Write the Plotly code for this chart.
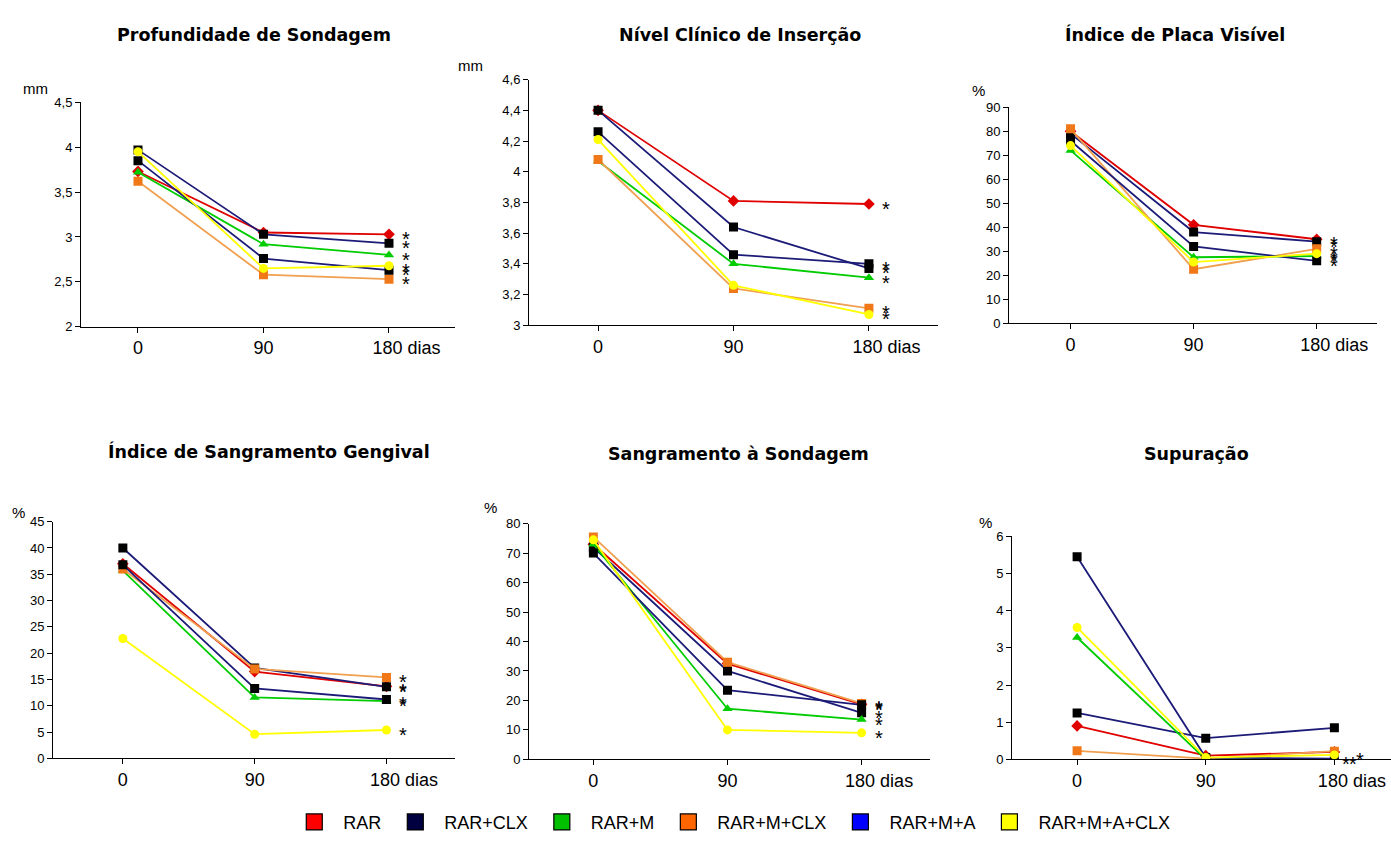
import plotly.graph_objects as go

# ---------------- data ----------------
days = ["0", "90", "180"]
series_names = ["RAR", "RAR+CLX", "RAR+M", "RAR+M+CLX", "RAR+M+A", "RAR+M+A+CLX"]

# Profundidade de Sondagem (mm)
ps_rar = [3.73, 3.05, 3.03]
ps_clx = [3.97, 3.03, 2.93]
ps_m = [3.72, 2.92, 2.80]
ps_mclx = [3.62, 2.58, 2.53]
ps_ma = [3.85, 2.76, 2.63]
ps_maclx = [3.95, 2.65, 2.68]

# Nivel Clinico de Insercao (mm)
nci_rar = [4.40, 3.81, 3.79]
nci_clx = [4.40, 3.64, 3.37]
nci_m = [4.07, 3.40, 3.31]
nci_mclx = [4.08, 3.24, 3.11]
nci_ma = [4.26, 3.46, 3.40]
nci_maclx = [4.21, 3.26, 3.07]

# Indice de Placa Visivel (%)
ipv_rar = [80, 41, 35]
ipv_clx = [79, 38, 34]
ipv_m = [72, 27.5, 28]
ipv_mclx = [81, 22.5, 31]
ipv_ma = [76, 32, 26]
ipv_maclx = [74, 25.5, 29]

# Indice de Sangramento Gengival (%)
isg_rar = [37, 16.5, 13.7]
isg_clx = [40, 17.2, 13.6]
isg_m = [35.7, 11.6, 10.9]
isg_mclx = [36, 17.0, 15.4]
isg_ma = [36.8, 13.3, 11.2]
isg_maclx = [22.8, 4.6, 5.4]

# Sangramento a Sondagem (%)
ss_rar = [73, 32.5, 18.7]
ss_clx = [72, 30, 15.8]
ss_m = [73, 17.2, 13.5]
ss_mclx = [75.5, 33, 19]
ss_ma = [70, 23.5, 18.5]
ss_maclx = [74.5, 10, 9]

# Supuracao (%)
sup_rar = [0.9, 0.10, 0.20]
sup_clx = [1.25, 0.57, 0.85]
sup_m = [3.28, 0.0, 0.0]
sup_mclx = [0.23, 0.02, 0.22]
sup_ma = [5.45, 0.05, 0.02]
sup_maclx = [3.55, 0.05, 0.12]

panel_titles = ["Profundidade de Sondagem", "Nível Clínico de Inserção", "Índice de Placa Visível",
                "Índice de Sangramento Gengival", "Sangramento à Sondagem", "Supuração"]
panel_units = ["mm", "mm", "%", "%", "%", "%"]
panel_data = [
    [ps_rar, ps_clx, ps_m, ps_mclx, ps_ma, ps_maclx],
    [nci_rar, nci_clx, nci_m, nci_mclx, nci_ma, nci_maclx],
    [ipv_rar, ipv_clx, ipv_m, ipv_mclx, ipv_ma, ipv_maclx],
    [isg_rar, isg_clx, isg_m, isg_mclx, isg_ma, isg_maclx],
    [ss_rar, ss_clx, ss_m, ss_mclx, ss_ma, ss_maclx],
    [sup_rar, sup_clx, sup_m, sup_mclx, sup_ma, sup_maclx],
]
y_ranges = [[2, 4.5], [3, 4.6], [0, 90], [0, 45], [0, 80], [0, 6]]
y_dticks = [0.5, 0.2, 10, 5, 10, 1]
# which series get a significance asterisk at 180 days
star_series = [[0, 1, 2, 3, 4, 5]] * 5 + [[2, 4, 5]]

# ---------------- styling ----------------
W, H = 1391, 844
line_colors = ["#e00000", "#1c1c78", "#00cc00", "#f0a050", "#1c1c78", "#ffff00"]
marker_colors = ["#e00000", "#000000", "#00cc00", "#f07818", "#000000", "#ffff00"]
marker_symbols = ["diamond", "square", "triangle-up", "square", "square", "circle"]
legend_colors = ["#ff0000", "#000040", "#00c000", "#ff6600", "#0000ff", "#ffff00"]

# panel boxes in pixels: (left, right, top, bottom)
boxes = [(81, 455, 97, 325.6), (529, 938, 74, 324), (1009, 1377, 102, 322),
         (53, 455, 524, 765), (529, 930, 526, 766), (1012, 1391, 539, 766)]
x_ranges = [[-0.454, 2.526], [-0.51, 2.51], [-0.50, 2.49],
            [-0.53, 2.52], [-0.48, 2.51], [-0.506, 2.44]]
title_pos = [(254, 28), (740, 28), (1175, 28), (269, 453), (738, 455), (1196, 455)]
unit_pos = [(35, 83), (470, 60), (978, 85), (18, 515), (490, 510), (985, 525)]

FONT = "Liberation Sans, Arial, sans-serif"
TITLE_FONT = "DejaVu Sans, Verdana, sans-serif"
nb = "\u00a0"
x_ticktext = ["0", "90", nb * 7 + "180 dias"]
last_day_index = days.index("180")

fig = go.Figure()
layout = dict(
    width=W, height=H, margin=dict(l=0, r=0, t=0, b=0),
    paper_bgcolor="white", plot_bgcolor="white",
    separators=",.",
    font=dict(family=FONT, color="black"),
    showlegend=True,
    legend=dict(orientation="h", x=0.525, xanchor="center", y=1 - 830 / H, yanchor="middle",
                font=dict(size=18, family=FONT), itemsizing="trace", itemwidth=48,
                tracegroupgap=0, bgcolor="rgba(0,0,0,0)"),
)
annotations = []

for p in range(6):
    ax = "" if p == 0 else str(p + 1)
    l, r, t, b = boxes[p]
    layout["xaxis" + ax] = dict(
        domain=[l / W, r / W], anchor="y" + ax, type="category",
        categoryorder="array", categoryarray=days,
        range=x_ranges[p], showline=True, linecolor="black", linewidth=1,
        ticks="outside", ticklen=5, tickcolor="black", showgrid=False, zeroline=False,
        tickvals=days, ticktext=x_ticktext, tickfont=dict(size=18, family=FONT),
        fixedrange=True,
    )
    layout["yaxis" + ax] = dict(
        domain=[1 - b / H, 1 - t / H], anchor="x" + ax, range=y_ranges[p], dtick=y_dticks[p],
        tick0=y_ranges[p][0], showline=True, linecolor="black", linewidth=1,
        ticks="outside", ticklen=5, tickcolor="black", showgrid=False, zeroline=False,
        tickfont=dict(size=13, family=FONT), fixedrange=True,
    )
    for s in range(6):
        fig.add_trace(go.Scatter(
            x=days, y=panel_data[p][s], xaxis="x" + ax, yaxis="y" + ax,
            mode="lines+markers", name=series_names[s], showlegend=False,
            line=dict(color=line_colors[s], width=1.8),
            marker=dict(symbol=marker_symbols[s], color=marker_colors[s], size=9,
                        line=dict(width=0)),
            hoverinfo="skip",
        ))
    # asterisks at 180 days
    for k, s in enumerate(star_series[p]):
        xs = 17 if p < 5 else 12 + 7 * k
        annotations.append(dict(
            x=last_day_index, y=panel_data[p][s][2], xref="x" + ax, yref="y" + ax,
            text="*", showarrow=False, xshift=xs, yshift=-5,
            xanchor="center", yanchor="middle",
            font=dict(size=20, family=FONT, color="black")))
    tx, ty = title_pos[p]
    annotations.append(dict(x=tx / W, y=1 - ty / H, xref="paper", yref="paper",
                            xanchor="center", yanchor="middle",
                            text="<b>" + panel_titles[p] + "</b>", showarrow=False,
                            font=dict(size=17.5, family=TITLE_FONT, color="black")))
    ux, uy = unit_pos[p]
    annotations.append(dict(x=ux / W, y=1 - uy / H, xref="paper", yref="paper",
                            xanchor="center", yanchor="middle",
                            text=panel_units[p], showarrow=False,
                            font=dict(size=15, family=FONT, color="black")))

# legend entries (square colour patches)
for s in range(6):
    fig.add_trace(go.Scatter(
        x=[None], y=[None], mode="markers", name=series_names[s], showlegend=True,
        marker=dict(symbol="square", size=18, color=legend_colors[s],
                    line=dict(color="black", width=1.2)),
        hoverinfo="skip",
    ))

layout["annotations"] = annotations
fig.update_layout(**layout)
fig.write_html("out.html", config={"displayModeBar": False},
               post_script="document.body.style.margin='0';document.body.style.padding='0';")
